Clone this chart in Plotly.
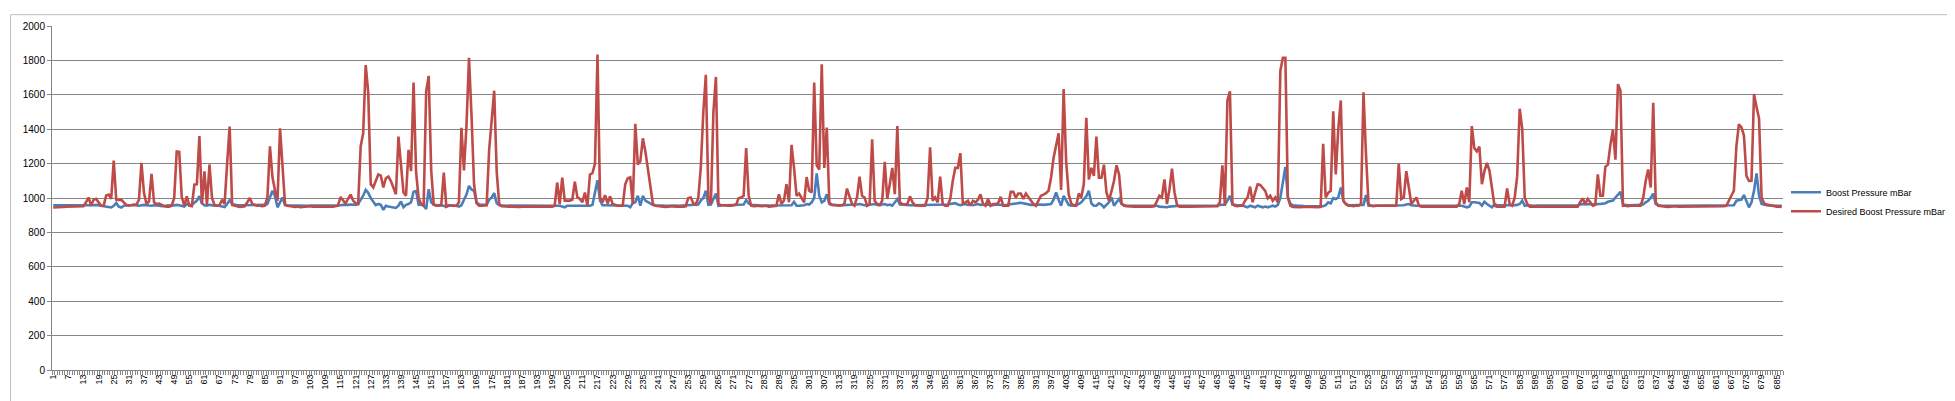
import plotly.graph_objects as go

# ---- data ----
series_names = ["Boost Pressure mBar", "Desired Boost Pressure mBar"]

desired_boost = [
    945, 945, 944, 946, 948, 950, 950, 950, 950, 950,
    950, 950, 952, 975, 1003, 955, 990, 995, 975, 955,
    955, 1015, 1020, 995, 1218, 990, 988, 990, 975, 960,
    955, 960, 962, 960, 990, 1205, 1030, 965, 980, 1140,
    975, 965, 968, 960, 952, 950, 950, 955, 1000, 1270,
    1268, 1005, 955, 1010, 955, 952, 1078, 1080, 1360, 965,
    1155, 960, 1195, 1000, 960, 955, 958, 990, 965, 1200,
    1415, 960, 955, 950, 948, 950, 952, 975, 1000, 965,
    958, 955, 955, 952, 955, 1005, 1300, 1120, 1045, 985,
    1405, 1180, 962, 955, 952, 950, 948, 950, 946, 948,
    950, 950, 952, 950, 948, 950, 950, 952, 950, 950,
    948, 950, 952, 955, 1005, 985, 968, 995, 1020, 985,
    970, 965, 1300, 1376, 1773, 1615, 1080, 1062, 1100, 1137,
    1130, 1061, 1115, 1124, 1098, 1060, 1022, 1357, 1175, 1032,
    1013, 1280, 1156, 1672, 1150, 1000, 965, 955, 1620, 1710,
    1160, 960, 955, 958, 960, 1147, 950, 958, 955, 955,
    955, 975, 1408, 1160, 1420, 1815, 1480, 1080, 970, 955,
    955, 955, 958, 1280, 1445, 1624, 1150, 965, 952, 950,
    948, 950, 950, 948, 946, 948, 950, 950, 948, 950,
    952, 950, 948, 950, 950, 952, 950, 948, 950, 955,
    1090, 965, 1118, 985, 985, 985, 990, 1095, 1005, 995,
    975, 1032, 955, 1137, 1145, 1200, 1834, 1005, 975, 1017,
    968, 1010, 965, 958, 955, 955, 955, 1080, 1115, 1120,
    965, 1431, 1194, 1215, 1347, 1270, 1175, 1080, 965, 955,
    952, 950, 950, 948, 950, 950, 952, 950, 948, 950,
    950, 952, 1000, 1003, 970, 962, 1000, 1180, 1500, 1716,
    1005, 965, 1500, 1704, 965, 958, 958, 955, 955, 955,
    958, 960, 998, 1003, 1013, 1290, 1013, 955, 952, 955,
    955, 952, 955, 955, 950, 952, 955, 955, 1022, 965,
    985, 1080, 975, 1309, 1175, 1013, 1026, 1003, 975, 1122,
    1042, 1032, 1672, 1190, 1166, 1777, 1175, 1410, 975, 960,
    958, 955, 955, 958, 965, 1055, 1003, 965, 955, 1003,
    1124, 1013, 1003, 955, 965, 1341, 984, 965, 960, 984,
    1210, 994, 1080, 1175, 1022, 1418, 975, 965, 962, 965,
    1010, 975, 958, 955, 955, 955, 955, 1000, 1294, 984,
    1003, 975, 1124, 965, 955, 955, 994, 1100, 1175, 1175,
    1261, 965, 975, 984, 955, 984, 975, 990, 1022, 965,
    955, 994, 955, 965, 965, 970, 1007, 955, 955, 955,
    1036, 1036, 1003, 1026, 1026, 994, 1026, 1003, 984, 965,
    955, 984, 1013, 1020, 1028, 1042, 1118, 1233, 1300, 1376,
    1047, 1634, 1213, 1022, 969, 955, 955, 1026, 1003, 1080,
    1466, 1108, 1175, 1128, 1357, 1118, 1118, 1194, 1032, 984,
    1040, 1100, 1190, 1137, 969, 955, 952, 950, 948, 950,
    950, 948, 950, 950, 952, 950, 950, 952, 980, 1013,
    1003, 1108, 965, 1050, 1170, 1032, 960, 950, 950, 948,
    950, 950, 950, 948, 950, 950, 952, 950, 950, 948,
    950, 950, 952, 975, 1190, 955, 1567, 1620, 965, 955,
    952, 955, 955, 984, 1003, 1066, 975, 1032, 1080, 1076,
    1061, 1042, 998, 1013, 984, 1003, 975, 1739, 1815, 1815,
    1003, 955, 948, 946, 948, 946, 948, 946, 948, 948,
    946, 948, 946, 948, 1315, 1003, 1030, 1042, 1504, 1137,
    1400, 1567, 984, 965, 955, 955, 952, 955, 955, 965,
    1615, 1252, 965, 955, 952, 955, 955, 955, 952, 955,
    955, 955, 952, 955, 1200, 994, 1003, 1156, 1061, 965,
    984, 1003, 955, 950, 950, 948, 950, 950, 948, 950,
    950, 950, 948, 950, 950, 952, 950, 950, 965, 1042,
    965, 1061, 975, 1418, 1290, 1271, 1299, 1080, 1156, 1204,
    1160, 1061, 955, 950, 950, 952, 950, 1055, 965, 955,
    1000, 1127, 1519, 1404, 1003, 965, 950, 950, 948, 950,
    950, 950, 948, 950, 950, 950, 952, 950, 950, 948,
    950, 950, 950, 952, 950, 950, 975, 998, 965, 994,
    975, 955, 960, 1137, 1013, 1013, 1181, 1194, 1309, 1395,
    1223, 1662, 1624, 955, 955, 952, 955, 955, 955, 952,
    955, 1000, 1099, 1166, 1061, 1553, 975, 955, 952, 950,
    950, 948, 950, 950, 952, 950, 950, 948, 950, 950,
    952, 950, 950, 948, 950, 950, 950, 952, 950, 950,
    948, 950, 950, 952, 955, 984, 1022, 1042, 1300, 1429,
    1410, 1363, 1128, 1099, 1100, 1605, 1529, 1462, 1003, 969,
    962, 958, 955, 952, 950, 950, 948,
]

boost = [
    958, 958, 958, 958, 958, 957, 957, 957, 958, 958,
    958, 958, 958, 958, 955, 958, 958, 960, 958, 955,
    955, 952, 948, 945, 955, 972, 950, 945, 955, 958,
    958, 958, 960, 958, 955, 958, 960, 958, 955, 955,
    958, 958, 955, 952, 955, 958, 958, 955, 958, 960,
    958, 955, 950, 965, 958, 960, 975, 985, 1010, 970,
    958, 955, 960, 958, 955, 958, 955, 952, 948, 965,
    988, 965, 960, 958, 958, 958, 960, 962, 960, 958,
    958, 958, 960, 960, 960, 965, 1000, 1042, 1010, 946,
    975, 1003, 958, 956, 955, 956, 956, 955, 956, 956,
    956, 955, 956, 956, 956, 955, 956, 956, 956, 955,
    956, 956, 955, 956, 958, 960, 958, 960, 962, 960,
    960, 965, 990, 1013, 1047, 1030, 1000, 975, 958, 965,
    960, 931, 955, 950, 948, 945, 942, 955, 980, 946,
    960, 965, 975, 1036, 1040, 960, 962, 955, 936, 1051,
    975, 962, 958, 955, 958, 955, 950, 955, 958, 955,
    955, 950, 958, 990, 1020, 1070, 1050, 1042, 975, 962,
    960, 958, 960, 990, 1003, 1028, 970, 958, 956, 956,
    955, 956, 956, 955, 956, 956, 956, 955, 956, 956,
    956, 955, 956, 956, 956, 955, 956, 956, 956, 955,
    955, 955, 950, 946, 955, 955, 955, 955, 955, 955,
    955, 955, 955, 955, 960, 1040, 1103, 985, 958, 958,
    958, 958, 956, 956, 956, 956, 956, 956, 955, 946,
    970, 975, 1013, 955, 1013, 985, 975, 968, 960, 958,
    956, 956, 956, 955, 956, 956, 956, 956, 955, 956,
    956, 956, 958, 960, 962, 960, 962, 985, 1000, 1042,
    960, 962, 990, 1026, 955, 958, 958, 958, 958, 958,
    958, 958, 958, 958, 962, 988, 968, 960, 958, 958,
    956, 956, 956, 956, 956, 955, 956, 956, 956, 956,
    955, 955, 958, 958, 978, 955, 955, 955, 958, 965,
    962, 975, 1000, 1143, 1013, 975, 984, 1022, 965, 960,
    958, 958, 958, 958, 958, 958, 958, 958, 960, 962,
    965, 960, 958, 958, 960, 962, 965, 960, 958, 962,
    965, 958, 962, 955, 975, 994, 962, 960, 958, 958,
    958, 958, 958, 958, 958, 958, 958, 958, 958, 958,
    958, 958, 958, 958, 962, 962, 965, 968, 970, 962,
    958, 962, 965, 960, 962, 958, 962, 965, 960, 962,
    960, 962, 960, 958, 962, 960, 962, 960, 958, 962,
    965, 968, 968, 970, 972, 968, 965, 962, 960, 960,
    962, 960, 962, 960, 962, 962, 965, 990, 1032, 990,
    955, 1013, 985, 960, 955, 958, 960, 965, 975, 994,
    1010, 1042, 969, 955, 955, 969, 962, 946, 962, 975,
    1003, 955, 975, 994, 965, 958, 956, 955, 955, 955,
    955, 955, 955, 955, 955, 955, 955, 955, 955, 950,
    948, 950, 946, 950, 952, 950, 955, 955, 955, 955,
    955, 955, 955, 955, 955, 955, 955, 955, 955, 955,
    955, 955, 955, 960, 962, 962, 985, 1013, 962, 958,
    958, 958, 958, 950, 946, 955, 950, 946, 955, 950,
    946, 950, 946, 950, 955, 950, 960, 1000, 1100, 1181,
    1003, 965, 958, 955, 955, 955, 952, 952, 952, 952,
    952, 952, 952, 952, 952, 958, 975, 969, 999, 994,
    1003, 1061, 984, 965, 958, 958, 958, 958, 958, 958,
    960, 1017, 955, 955, 955, 955, 955, 955, 955, 955,
    955, 955, 955, 955, 955, 955, 958, 962, 965, 958,
    955, 955, 955, 955, 955, 955, 955, 955, 955, 955,
    955, 955, 955, 955, 955, 955, 955, 955, 955, 955,
    950, 946, 950, 975, 975, 975, 971, 955, 978, 965,
    955, 946, 965, 958, 958, 958, 955, 955, 958, 958,
    958, 960, 965, 984, 955, 958, 956, 956, 955, 956,
    956, 956, 955, 956, 956, 956, 955, 956, 956, 955,
    956, 956, 956, 955, 956, 958, 962, 965, 962, 965,
    965, 962, 965, 965, 965, 968, 970, 978, 980, 985,
    1003, 1020, 1036, 962, 958, 957, 957, 957, 958, 960,
    962, 962, 975, 984, 1000, 1026, 965, 958, 956, 955,
    955, 955, 955, 955, 955, 955, 955, 955, 955, 955,
    955, 955, 955, 955, 955, 955, 955, 955, 955, 955,
    955, 955, 955, 955, 955, 956, 958, 958, 984, 988,
    990, 1017, 975, 946, 975, 1042, 1143, 1013, 965, 960,
    958, 956, 955, 955, 955, 955, 955,
]

assert len(boost) == len(desired_boost), (len(boost), len(desired_boost))
n_points = len(boost)
categories = list(range(1, n_points + 1))
tick_labels = [c for c in categories if (c - 1) % 6 == 0]
y_ticks = list(range(0, 2001, 200))

# ---- geometry ----
W, H = 1955, 401
L, R, T, B = 44, 177, 13, 39
pw, ph = W - L - R, H - T - B

fig = go.Figure()
fig.add_trace(go.Scatter(x=categories, y=boost, mode="lines", name=series_names[0],
                         line=dict(color="#4A7EBB", width=2.6)))
fig.add_trace(go.Scatter(x=categories, y=desired_boost, mode="lines", name=series_names[1],
                         line=dict(color="#BE4B48", width=2.6)))

axis_grey = "#868686"
fig.update_layout(
    width=W, height=H,
    margin=dict(l=L, r=R, t=T, b=B, pad=0),
    paper_bgcolor="white", plot_bgcolor="white",
    font=dict(family="Liberation Sans, Arial, sans-serif", color="#000000", size=10),
    showlegend=True,
    legend=dict(x=(1781 - L) / pw, y=(361.7 - 191) / ph, xanchor="left", yanchor="middle",
                font=dict(size=9), bgcolor="rgba(0,0,0,0)", itemwidth=30,
                tracegroupgap=0),
    xaxis=dict(
        range=[0.5, n_points + 0.5], showgrid=False, zeroline=False,
        showline=True, linecolor=axis_grey, linewidth=1,
        tickmode="array", tickvals=tick_labels, ticktext=[str(t) for t in tick_labels],
        tickangle=-90, tickfont=dict(size=9), ticks="", ticklen=0,
        minor=dict(ticks="outside", tickmode="linear", tick0=0.5, dtick=1,
                   ticklen=4, tickcolor=axis_grey, tickwidth=1, showgrid=False),
    ),
    yaxis=dict(
        range=[0, 2000], tickvals=y_ticks, showgrid=True, gridcolor=axis_grey, gridwidth=1,
        zeroline=False, showline=True, linecolor=axis_grey, linewidth=1,
        ticks="outside", ticklen=4, tickcolor=axis_grey, tickfont=dict(size=10),
    ),
    shapes=[dict(type="rect", xref="paper", yref="paper",
                 x0=(2.5 - L) / pw, x1=(1952.5 - L) / pw,
                 y0=(H - B - 399) / ph, y1=(H - B - 1.5) / ph,
                 line=dict(color="#bfbfbf", width=1), fillcolor="rgba(0,0,0,0)", layer="below")],
)

fig.write_html("out.html")
